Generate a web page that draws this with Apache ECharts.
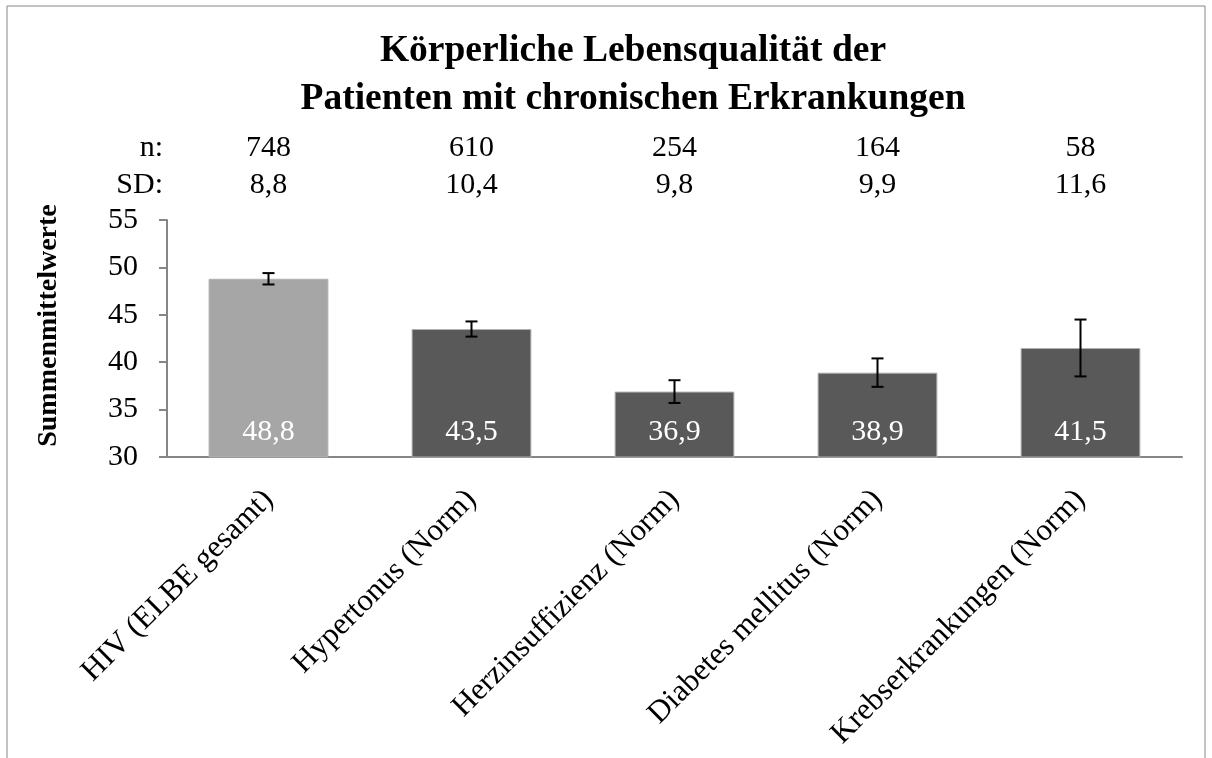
<!DOCTYPE html>
<html>
<head>
<meta charset="utf-8">
<script src="https://cdn.jsdelivr.net/npm/echarts@6/dist/echarts.min.js"></script>
<style>
  html, body { margin: 0; padding: 0; background: #fff; }
  #chart { width: 1212px; height: 758px; }
</style>
</head>
<body>
<div id="chart"></div>
<script>
const categories = ['HIV (ELBE gesamt)', 'Hypertonus (Norm)', 'Herzinsuffizienz (Norm)', 'Diabetes mellitus (Norm)', 'Krebserkrankungen (Norm)']
const means = [48.8, 43.5, 36.9, 38.9, 41.5]
const ciLow = [48.2, 42.7, 35.7, 37.4, 38.5]
const ciHigh = [49.4, 44.3, 38.1, 40.4, 44.5]
const nValues = ['748', '610', '254', '164', '58']
const sdValues = ['8,8', '10,4', '9,8', '9,9', '11,6']
const barColors = ['#a6a6a6', '#595959', '#595959', '#595959', '#595959']

const serif = '"Liberation Serif", "Times New Roman", serif'
const chart = echarts.init(document.getElementById('chart'))

// rows of text above the plot (n and SD), done as extra category axes
const topAxis = (data, name, offset) => ({
  type: 'category',
  position: 'top',
  gridIndex: 0,
  offset: offset,
  data: data,
  name: name,
  nameLocation: 'start',
  nameGap: 4,
  nameTextStyle: {fontFamily: serif, fontSize: 30, color: '#000', verticalAlign: 'middle'},
  axisLine: {show: false},
  axisTick: {show: false},
  axisLabel: {fontFamily: serif, fontSize: 30, color: '#000', margin: 0, verticalAlign: 'middle'}
})

const option = {
  backgroundColor: '#fff',
  animation: false,
  title: {
    text: 'Körperliche Lebensqualität der\nPatienten mit chronischen Erkrankungen',
    left: 628,
    textAlign: 'center',
    top: 22,
    textStyle: {fontFamily: serif, fontSize: 37.5, fontWeight: 'bold', color: '#000', lineHeight: 48}
  },
  graphic: [{
    type: 'rect',
    shape: {x: 7, y: 6, width: 1198, height: 760},
    style: {fill: 'none', stroke: '#868686', lineWidth: 1},
    silent: true
  }],
  grid: {left: 167, right: 30, top: 220, bottom: 301},
  xAxis: [{
    type: 'category',
    data: categories,
    axisLine: {lineStyle: {color: '#868686', width: 2}},
    axisTick: {show: false},
    axisLabel: {fontFamily: serif, fontSize: 31, color: '#000', rotate: 45, margin: 38, interval: 0}
  },
    topAxis(sdValues, 'SD:', 35),
    topAxis(nValues, 'n:', 72)
  ],
  yAxis: {
    type: 'value',
    min: 30,
    max: 55,
    interval: 5,
    name: 'Summenmittelwerte',
    nameLocation: 'middle',
    nameGap: 104,
    nameRotate: 90,
    nameTextStyle: {fontFamily: serif, fontSize: 28, fontWeight: 'bold', color: '#000', padding: [0, 0, 0, 26]},
    splitLine: {show: false},
    axisLine: {show: true, lineStyle: {color: '#868686', width: 2}},
    axisTick: {show: true, inside: false, length: 8, lineStyle: {color: '#868686', width: 2}},
    axisLabel: {fontFamily: serif, fontSize: 30, color: '#000', margin: 29}
  },
  series: [{
    type: 'bar',
    xAxisIndex: 0,
    barWidth: '59%',
    data: means.map((v, i) => ({value: v, itemStyle: {color: barColors[i], borderColor: '#b0b0b0', borderWidth: 1}})),
    label: {
      show: true,
      position: 'insideBottom',
      distance: 10,
      fontFamily: serif,
      fontSize: 30,
      color: '#fff',
      formatter: p => String(p.value).replace('.', ',')
    }
  }, {
    type: 'custom',
    xAxisIndex: 0,
    data: categories.map((c, i) => [i, ciLow[i], ciHigh[i]]),
    z: 10,
    renderItem: (params, api) => {
      const lo = api.coord([api.value(0), api.value(1)])
      const hi = api.coord([api.value(0), api.value(2)])
      const cap = 6
      const st = {stroke: '#000', lineWidth: 2}
      return {
        type: 'group',
        children: [
          {type: 'line', shape: {x1: lo[0], y1: lo[1], x2: hi[0], y2: hi[1]}, style: st},
          {type: 'line', shape: {x1: lo[0] - cap, y1: lo[1], x2: lo[0] + cap, y2: lo[1]}, style: st},
          {type: 'line', shape: {x1: hi[0] - cap, y1: hi[1], x2: hi[0] + cap, y2: hi[1]}, style: st}
        ]
      }
    }
  }]
}
chart.setOption(option)
</script>
</body>
</html>
